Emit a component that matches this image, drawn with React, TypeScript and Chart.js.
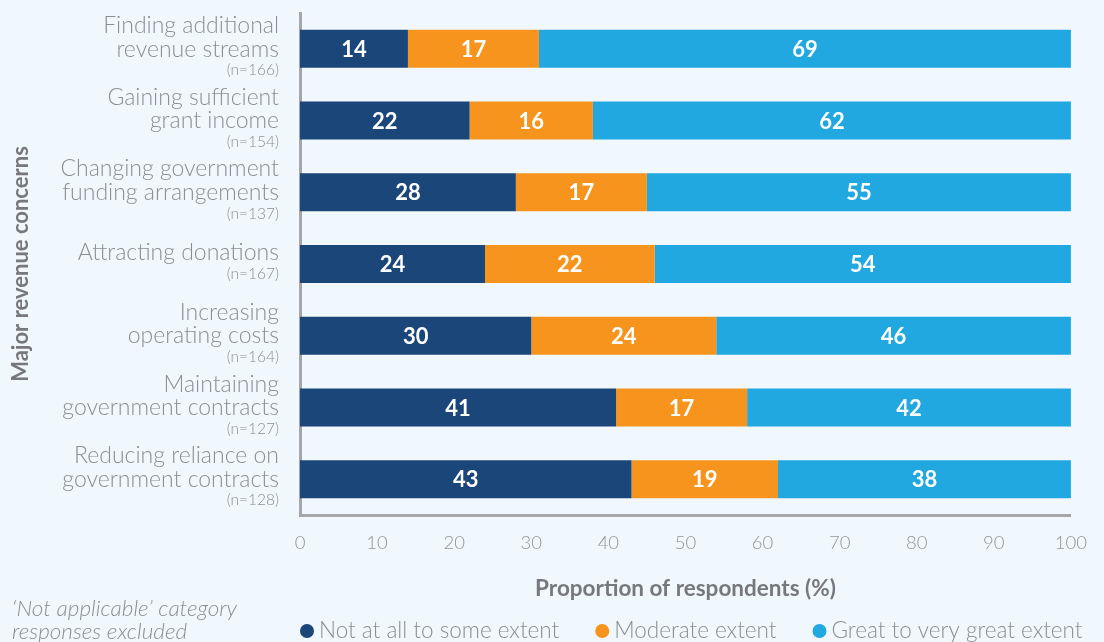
import React, { useEffect, useRef } from 'react';
import { Chart, registerables } from 'chart.js';

Chart.register(...registerables);

const categoryLines: string[][] = [
  ['Finding additional', 'revenue streams'],
  ['Gaining sufficient', 'grant income'],
  ['Changing government', 'funding arrangements'],
  ['Attracting donations'],
  ['Increasing', 'operating costs'],
  ['Maintaining', 'government contracts'],
  ['Reducing reliance on', 'government contracts'],
];
const sampleSizes = [166, 154, 137, 167, 164, 127, 128];

const notAtAll = [14, 22, 28, 24, 30, 41, 43];
const moderate = [17, 16, 17, 22, 24, 17, 19];
const greatExtent = [69, 62, 55, 54, 46, 42, 38];

const seriesLabels = ['Not at all to some extent', 'Moderate extent', 'Great to very great extent'];
const seriesColors = ['#1b4679', '#f7941e', '#21a8e0'];

const xAxisTitle = 'Proportion of respondents (%)';
const yAxisTitle = 'Major revenue concerns';
const footnoteLines = ['\u2018Not applicable\u2019 category', 'responses excluded'];

const FONT = 'Lato, "Open Sans", sans-serif';
const BG = '#f0f8fe';
const LABEL_GRAY = '#8c8e91';
const TITLE_GRAY = '#77787b';

const backgroundPlugin = {
  id: 'bg',
  beforeDraw(chart: any) {
    const ctx = chart.ctx;
    ctx.save();
    ctx.fillStyle = BG;
    ctx.fillRect(0, 0, chart.width, chart.height);
    ctx.restore();
  },
};

const categoryLabelPlugin = {
  id: 'catLabels',
  afterDraw(chart: any) {
    const ctx = chart.ctx;
    const yScale = chart.scales.y;
    const xRight = 279;
    const lineH = 23.5;
    const nGap = 21;
    ctx.save();
    ctx.textAlign = 'right';
    ctx.textBaseline = 'middle';
    categoryLines.forEach((lines, i) => {
      const cy = yScale.getPixelForValue(i);
      const span = (lines.length - 1) * lineH + nGap;
      const y = cy - span / 2 - 1;
      ctx.fillStyle = LABEL_GRAY;
      ctx.font = `300 23px ${FONT}`;
      lines.forEach((ln, k) => {
        ctx.fillText(ln, xRight, y + k * lineH);
      });
      ctx.font = `300 15.5px ${FONT}`;
      ctx.fillText(`(n=${sampleSizes[i]})`, xRight, y + (lines.length - 1) * lineH + nGap);
    });
    ctx.restore();
  },
};

const barValuePlugin = {
  id: 'barValues',
  afterDatasetsDraw(chart: any) {
    const ctx = chart.ctx;
    ctx.save();
    ctx.fillStyle = '#ffffff';
    ctx.font = `bold 22px ${FONT}`;
    ctx.textAlign = 'center';
    ctx.textBaseline = 'middle';
    chart.data.datasets.forEach((ds: any, di: number) => {
      const meta = chart.getDatasetMeta(di);
      meta.data.forEach((el: any, i: number) => {
        const cx = (el.x + el.base) / 2;
        ctx.fillText(String(ds.data[i]), cx, el.y + 1);
      });
    });
    ctx.restore();
  },
};

const legendPlugin = {
  id: 'customLegend',
  afterDraw(chart: any) {
    const ctx = chart.ctx;
    ctx.save();
    // footnote
    ctx.fillStyle = LABEL_GRAY;
    ctx.font = `italic 300 22.5px ${FONT}`;
    ctx.textAlign = 'left';
    ctx.textBaseline = 'middle';
    footnoteLines.forEach((ln, k) => ctx.fillText(ln, 12, 609 + k * 23));

    // legend
    const y = 631;
    let x = 307;
    ctx.font = `300 22.5px ${FONT}`;
    chart.data.datasets.forEach((ds: any) => {
      ctx.fillStyle = ds.backgroundColor;
      ctx.beginPath();
      ctx.arc(x, y, 7, 0, Math.PI * 2);
      ctx.fill();
      ctx.fillStyle = LABEL_GRAY;
      ctx.fillText(ds.label, x + 12, y);
      const w = ctx.measureText(ds.label).width;
      x = x + 12 + w + 43;
    });
    ctx.restore();
  },
};

export default function App() {
  const canvasRef = useRef<HTMLCanvasElement | null>(null);

  useEffect(() => {
    document.body.style.margin = '0';
    document.body.style.background = BG;
    const canvas = canvasRef.current;
    if (!canvas) return;
    const data = {
      labels: categoryLines.map((l) => l.join(' ')),
      datasets: [notAtAll, moderate, greatExtent].map((vals, i) => ({
        label: seriesLabels[i],
        data: vals,
        backgroundColor: seriesColors[i],
        borderWidth: 0,
        barPercentage: 0.53,
        categoryPercentage: 1,
      })),
    };
    const chart = new Chart(canvas, {
      type: 'bar',
      data,
      options: {
        indexAxis: 'y',
        animation: false,
        responsive: false,
        maintainAspectRatio: false,
        layout: { padding: { top: 13, right: 33, bottom: 38, left: 0 } },
        plugins: {
          legend: { display: false },
          tooltip: { enabled: false },
        },
        scales: {
          x: {
            type: 'linear',
            stacked: true,
            min: 0,
            max: 100,
            ticks: {
              stepSize: 10,
              color: '#939598',
              font: { family: FONT, size: 18.5, weight: '300' as any },
              padding: 17,
            },
            grid: { display: false, drawTicks: false },
            border: { display: true, color: '#a4a6a9', width: 3 },
            title: {
              display: true,
              text: xAxisTitle,
              color: TITLE_GRAY,
              font: { family: FONT, size: 22.5, weight: 'bold' },
              padding: { top: 0, bottom: 2 },
            },
            afterFit: (s: any) => {
              s.height = 89;
            },
          },
          y: {
            type: 'category',
            stacked: true,
            ticks: { display: false },
            grid: { display: false, drawTicks: false },
            border: { display: true, color: '#a4a6a9', width: 3 },
            title: {
              display: true,
              text: yAxisTitle,
              color: TITLE_GRAY,
              font: { family: FONT, size: 22, weight: 'bold' },
              padding: { top: 8, bottom: 0 },
            },
            afterFit: (s: any) => {
              s.width = 300;
            },
          },
        },
      },
      plugins: [backgroundPlugin, categoryLabelPlugin, barValuePlugin, legendPlugin],
    });
    return () => chart.destroy();
  }, []);

  return (
    <div style={{ position: 'fixed', left: 0, top: 0, width: 1104, height: 642, background: BG }}>
      <canvas ref={canvasRef} width={1104} height={642} style={{ width: 1104, height: 642, display: 'block' }} />
    </div>
  );
}
